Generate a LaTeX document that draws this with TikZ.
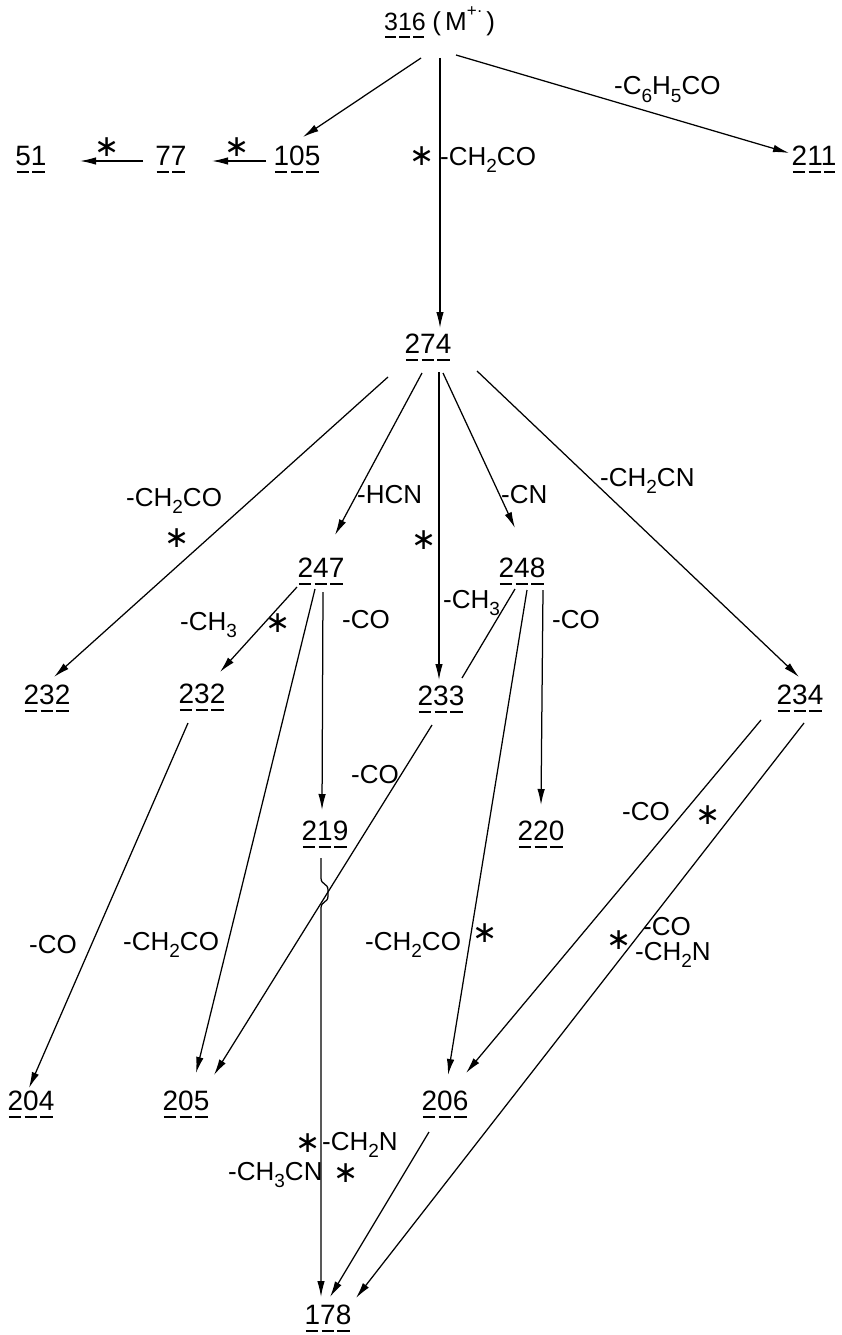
\documentclass[tikz,border=0pt]{standalone}
\usepackage{fontspec}
\setmainfont{Liberation Sans}
\newfontfamily\symfont{DejaVu Sans}
\usetikzlibrary{arrows.meta,calc}

% lowered subscript inside a formula label
\newcommand\sbs[1]{\raisebox{-0.28em}{\fontsize{19}{19}\selectfont #1}}

\tikzset{
  num/.style={font=\fontsize{28}{28}\selectfont, inner sep=0pt, anchor=base},
  ttl/.style={font=\fontsize{25}{25}\selectfont, inner sep=0pt, anchor=base},
  lbl/.style={font=\fontsize{26}{26}\selectfont, inner sep=0pt, anchor=base west},
  mstar/.style={font=\symfont\fontsize{30}{30}\selectfont, inner sep=0pt},
  arr/.style={line width=1.25pt, -{Latex[length=16pt,width=7.5pt]}},
  ln/.style={line width=1.25pt},
  uline/.style={line width=1.5pt, dash pattern=on 12.5pt off 3.07pt},
  tline/.style={line width=1.5pt, dash pattern=on 11pt off 2.9pt}
}

\begin{document}
\begin{tikzpicture}[x=1pt,y=-1pt]
\useasboundingbox (0,0) rectangle (841,1335);

% ---- fragment masses ----
\node[ttl] (n316) at (405,31) {316};
\node[ttl, anchor=base west, font=\fontsize{26}{26}\selectfont] (nM) at ($(n316.base east)+(6,0)$)
  {(\,M\raisebox{0.55em}{\fontsize{17}{17}\selectfont +\kern0.5pt\raisebox{0.25em}{.}}\,)};
\node[num] (n51)  at (31,165)  {51};
\node[num] (n77)  at (171,165) {77};
\node[num] (n105) at (297,165) {105};
\node[num] (n211) at (814,165) {211};
\node[num] (n274) at (428,353) {274};
\node[num] (n247) at (321,577) {247};
\node[num] (n248) at (522,577) {248};
\node[num] (n232a) at (47,704)  {232};
\node[num] (n232b) at (202,703) {232};
\node[num] (n233) at (441,705) {233};
\node[num] (n234) at (800,704) {234};
\node[num] (n219) at (325,840) {219};
\node[num] (n220) at (541,840) {220};
\node[num] (n204) at (31,1110)  {204};
\node[num] (n205) at (186,1110) {205};
\node[num] (n206) at (445,1110) {206};
\node[num] (n178) at (328,1324) {178};

% dashed underlines, one dash per digit
\draw[tline] ($(n316.base west)+(1.45,6)$) -- ($(n316.base east)+(-1.45,6)$);
\foreach \n in {n51,n77,n105,n211,n274,n247,n248,n232a,n232b,n233,n234,n219,n220,n204,n205,n206,n178}
  \draw[uline] ($(\n.base west)+(1.5,7)$) -- ($(\n.base east)+(-1.5,7)$);

% ---- fragmentation steps ----
\draw[arr] ($(n316.base)+(16,27)$) -- ($(n105.base)+(6,-28)$);
\draw[arr] ($(n316.base)+(35,27)$) -- ($(n274.base)+(12,-25)$);
\draw[arr] ($(n316.base)+(51,24)$) -- ($(n211.base)+(-25,-12)$);
\draw[arr] ($(n105.base)+(-31,-4)$) -- ($(n77.base)+(41,-4)$);
\draw[arr] ($(n77.base)+(-28,-4)$) -- ($(n51.base)+(49,-4)$);

\draw[arr] ($(n274.base)+(-40,24)$) -- ($(n232a.base)+(7,-27)$);
\draw[arr] ($(n274.base)+(-6,20)$)  -- ($(n247.base)+(14,-42)$);
\draw[arr] ($(n274.base)+(11,19)$)  -- ($(n233.base)+(-2,-25)$);
\draw[arr] ($(n274.base)+(15,20)$)  -- ($(n248.base)+(-7,-49)$);
\draw[arr] ($(n274.base)+(49,18)$)  -- ($(n234.base)+(-1,-27)$);

\draw[arr] ($(n247.base)+(-24,10)$) -- ($(n232b.base)+(18,-31)$);
\draw[arr] ($(n247.base)+(-6,12)$)  -- ($(n205.base)+(10,-37)$);
\draw[arr] ($(n247.base)+(2,15)$)   -- ($(n219.base)+(-3,-30)$);

\draw[ln]  ($(n248.base)+(-7,12)$)  -- ($(n233.base)+(21,-27)$);
\draw[arr] ($(n248.base)+(5,13)$)   -- ($(n206.base)+(3,-35)$);
\draw[arr] ($(n248.base)+(21,13)$)  -- ($(n220.base)+(0,-35)$);

\draw[arr] ($(n232b.base)+(-14,20)$) -- ($(n204.base)+(-2,-22)$);
\draw[arr] ($(n233.base)+(-9,20)$)   -- ($(n205.base)+(28,-35)$);
\draw[arr] ($(n234.base)+(-39,16)$)  -- ($(n206.base)+(21,-37)$);
\draw[arr] ($(n234.base)+(4,19)$)    -- ($(n178.base)+(28,-26)$);
\draw[arr] ($(n206.base)+(-16,22)$)  -- ($(n178.base)+(2,-27)$);

% 219 -> 178, with a small hop where the 233 -> 205 line crosses
\draw[arr] ($(n219.base)+(-4,18)$) -- ($(n219.base)+(-4,38)$)
  .. controls ($(n219.base)+(-4,45)$) and ($(n219.base)+(3,43)$) .. ($(n219.base)+(3,50)$)
  -- ($(n219.base)+(3,56)$)
  .. controls ($(n219.base)+(3,63)$) and ($(n219.base)+(-4,61)$) .. ($(n219.base)+(-4,68)$)
  -- ($(n178.base)+(-7,-27)$);

% ---- lost neutral fragments ----
\node[mstar] (s0) at (422,156) {∗};
\node[lbl] (l1) at (440,165) {-CH\sbs{2}CO};
\node[lbl] (l2) at (614,95) {-C\sbs{6}H\sbs{5}CO};
\node[mstar] (s1) at (107,147) {∗};
\node[mstar] (s2) at (237,147) {∗};

\node[lbl] (l3) at (126,506) {-CH\sbs{2}CO};
\node[mstar] (s3) at (177,538) {∗};
\node[lbl] (l4) at (357,503) {-HCN};
\node[mstar] (s4) at (424,540) {∗};
\node[lbl] (l5) at (501,503) {-CN};
\node[lbl] (l6) at (600,486) {-CH\sbs{2}CN};

\node[lbl] (l7) at (180,630) {-CH\sbs{3}};
\node[mstar] (s5) at (278,623) {∗};
\node[lbl] (l8) at (342,628) {-CO};
\node[lbl] (l9) at (443,608) {-CH\sbs{3}};
\node[lbl] (l10) at (552,628) {-CO};

\node[lbl] (l11) at (351,783) {-CO};
\node[lbl] (l12) at (622,820) {-CO};
\node[mstar] (s6) at (708,815) {∗};

\node[lbl] (l13) at (29,953) {-CO};
\node[lbl] (l14) at (123,950) {-CH\sbs{2}CO};
\node[lbl] (l15) at (365,950) {-CH\sbs{2}CO};
\node[mstar] (s7) at (485,933) {∗};
\node[mstar] (s8) at (619,940) {∗};
\node[lbl] (l16) at (643,935) {-CO};
\node[lbl] (l17) at (635,960) {-CH\sbs{2}N};

\node[mstar] (s9) at (308,1143) {∗};
\node[lbl] (l18) at (322,1150) {-CH\sbs{2}N};
\node[lbl] (l19) at (228,1180) {-CH\sbs{3}CN};
\node[mstar] (s10) at (346,1173) {∗};
\end{tikzpicture}
\end{document}
